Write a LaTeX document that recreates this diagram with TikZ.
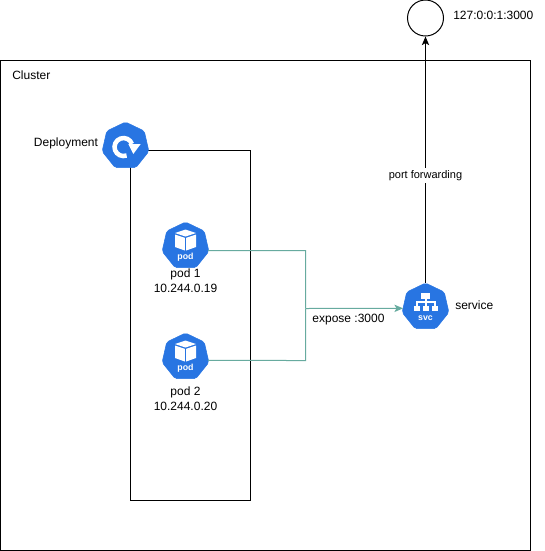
\documentclass[tikz,border=0pt]{standalone}
\usepackage{fontspec}
\setmainfont{Liberation Sans}
\usetikzlibrary{shapes.geometric,arrows.meta}
\definecolor{kube}{HTML}{2875E2}
\definecolor{teal}{HTML}{67AB9F}
\tikzset{
  x=0.75pt,y=-0.75pt,
  line/.style={draw=black,line width=0.75pt},
  box/.style={line},
  hept/.style={regular polygon,regular polygon sides=7,minimum size=48*0.75pt,inner sep=0pt,fill=kube,draw=kube,line width=0.4pt,rounded corners=1.5pt},
  lbl/.style={font=\fontsize{9}{11.25}\selectfont,text=black,inner sep=0pt,align=center},
  conn/.style={line,-{Stealth[length=6.5pt,width=5.5pt,inset=1.6pt]}},
  tconn/.style={draw=teal,line width=0.75pt},
  ico/.style={font=\fontsize{6.6}{7}\selectfont\bfseries,text=white,inner sep=0pt},
  wf/.style={fill=white,draw=none},
}
\newcommand{\podcube}[2]{%
  \begin{scope}[shift={(#1,#2)}]
    \path[wf] (0,-16.5) -- (10.5,-13) -- (0,-9.5) -- (-10.5,-13) -- cycle;
    \path[wf] (-10.5,-11.5) -- (-0.7,-8.2) -- (-0.7,4.5) -- (-10.5,1) -- cycle;
    \path[wf] (10.5,-11.5) -- (0.7,-8.2) -- (0.7,4.5) -- (10.5,1) -- cycle;
  \end{scope}}
\begin{document}
\begin{tikzpicture}
\useasboundingbox (0,0) rectangle (544,551);
% containers
\node[draw=none,inner sep=0pt,minimum size=0pt] (clusterA) at (0.5,60.5) {};
\node[draw=none,inner sep=0pt,minimum size=0pt] (clusterB) at (530.5,550.5) {};
\draw[box] (clusterA) rectangle (clusterB);
\node[draw=none,inner sep=0pt,minimum size=0pt] (depA) at (130.5,150.5) {};
\node[draw=none,inner sep=0pt,minimum size=0pt] (depB) at (250.5,500.5) {};
\draw[box] (depA) rectangle (depB);
% icons
\node[hept] (deploy) at (125.5,146) {};
\node[hept] (pod1) at (185.5,246) {};
\node[hept] (pod2) at (185.5,357) {};
\node[hept] (svc) at (425.5,307) {};
% deployment glyph
\draw[white,line width=3.4pt] (126.6,155.5) arc[start angle=70,end angle=340,radius=9];
\path[wf] (128.3,144) -- (140.7,144) -- (133.3,154) -- cycle;
% pod glyphs
\podcube{185.5}{246}
\podcube{185.5}{357}
\node[ico] at (185.5,257) {pod};
\node[ico] at (185.5,368) {pod};
% service glyph
\path[wf] (421,293) rectangle (430,298.5);
\path[wf] (414,305.5) rectangle (420,310.5);
\path[wf] (423,305.5) rectangle (429,310.5);
\path[wf] (432,305.5) rectangle (438,310.5);
\draw[white,line width=0.8pt] (426,298) -- (426,306) (417,306) -- (417,302) -- (435,302) -- (435,306);
\node[ico] at (425.5,318.5) {svc};
% forwarding target
\node[circle,draw=black,line width=0.75pt,minimum size=36*0.75pt,inner sep=0pt] (target) at (425.5,18) {};
% connectors
\draw[conn] (svc.north) -- node[pos=0.435,fill=white,inner sep=1.5pt,font=\fontsize{8.25}{10}\selectfont] {port forwarding} (target.south);
\coordinate (j1) at (305.5,250.5);
\coordinate (j2) at (305.5,360.5);
\coordinate (j3) at (305.5,308.5);
\draw[tconn] ([yshift=-3.4pt]pod1.east) -- (j1) -- (j3);
\draw[tconn] ([yshift=-2.6pt]pod2.east) -- (j2) -- (j3);
\draw[tconn,-{Stealth[length=6.5pt,width=5.5pt,inset=1.6pt]}] (j3) -- ([yshift=-1pt]svc.west);
% labels
\node[lbl,anchor=west] at (12,75) {Cluster};
\node[lbl] at (66,143.5) {Deployment};
\node[lbl] at (185.5,280.5) {pod 1\\10.244.0.19};
\node[lbl] at (185.5,398.5) {pod 2\\10.244.0.20};
\node[lbl] at (348.5,320) {expose :3000};
\node[lbl,anchor=west] at (455,305) {service};
\node[lbl,anchor=west] at (453,15.5) {127:0:0:1:3000};
\end{tikzpicture}
\end{document}
